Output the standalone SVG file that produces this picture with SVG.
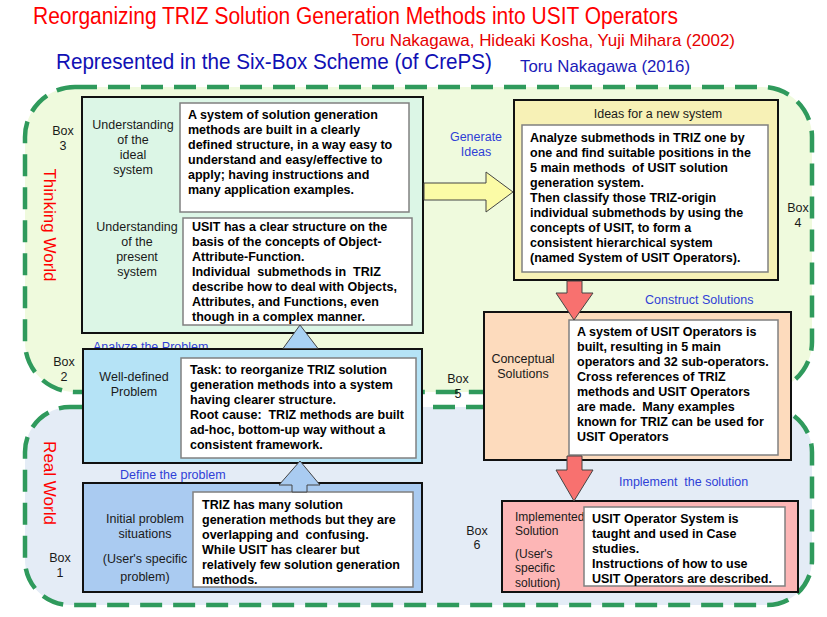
<svg xmlns="http://www.w3.org/2000/svg" width="827" height="617" viewBox="0 0 827 617">
<style>
text{font-family:"Liberation Sans",Arial,sans-serif;white-space:pre}
.hd{font-weight:normal}
.t{font-size:12.5px;font-weight:bold;fill:#000}
.lb{font-size:12.5px;fill:#1a1a1a}
.sm{font-size:12px;fill:#1a1a1a}
.fl{font-size:12.5px;fill:#2f3fd6}
.world{stroke:#2f9a5c;stroke-width:4.5;stroke-dasharray:22 11}
.outer{stroke:#111;stroke-width:2}
.inner{fill:#fff;stroke:#808080;stroke-width:1.5}
.arr{stroke:#444;stroke-width:1}
.vw{font-size:17px;fill:#f00}
</style>
<rect width="827" height="617" fill="#fff"/>
<g id="header">
<text x="33" y="24" class="hd" font-size="23" fill="#f00" textLength="645" lengthAdjust="spacingAndGlyphs">Reorganizing TRIZ Solution Generation Methods into USIT Operators</text>
<text x="352" y="46" class="hd" font-size="17" fill="#e60000" textLength="383" lengthAdjust="spacingAndGlyphs">Toru Nakagawa, Hideaki Kosha, Yuji Mihara (2002)</text>
<text x="56" y="69" class="hd" font-size="22" fill="#1010b4" textLength="436" lengthAdjust="spacingAndGlyphs">Represented in the Six-Box Scheme (of CrePS)</text>
<text x="520" y="72" class="hd" font-size="17" fill="#1a1ab8" textLength="170" lengthAdjust="spacingAndGlyphs">Toru Nakagawa (2016)</text>
</g>
<g id="worlds">
<rect id="thinking-world" class="world" x="25" y="87" width="787" height="305" rx="50" ry="50" fill="#effadd"/>
<rect id="real-world" class="world" x="25" y="407" width="787" height="198" rx="45" ry="45" fill="#e4ecf6"/>
<text class="vw" transform="translate(50,225) rotate(90)" x="0" y="6" text-anchor="middle">Thinking World</text>
<text class="vw" transform="translate(50,483) rotate(90)" x="0" y="6" text-anchor="middle">Real World</text>
</g>
<g id="flow-labels">
<text class="fl" x="476" y="141" text-anchor="middle">Generate</text>
<text class="fl" x="476" y="156" text-anchor="middle">Ideas</text>
<text class="fl" x="93" y="351">Analyze the Problem</text>
<text class="fl" x="120" y="479">Define the problem</text>
<text class="fl" x="645" y="304">Construct Solutions</text>
<text class="fl" x="619" y="486">Implement  the solution</text>
</g>
<g id="box3">
<rect class="outer" x="82" y="97" width="341" height="236" fill="#dcf6e6"/>
<text class="lb" text-anchor="middle"><tspan x="63" y="135">Box</tspan><tspan x="63" y="150">3</tspan></text>
<text class="lb" text-anchor="middle"><tspan x="133" y="129">Understanding</tspan><tspan x="133" y="144">of the</tspan><tspan x="133" y="159">ideal</tspan><tspan x="133" y="174">system</tspan></text>
<text class="lb" text-anchor="middle"><tspan x="137" y="231">Understanding</tspan><tspan x="137" y="246">of the</tspan><tspan x="137" y="261">present</tspan><tspan x="137" y="276">system</tspan></text>
<rect class="inner" x="180" y="103" width="229" height="109"/>
<text class="t"><tspan x="188" y="119">A system of solution generation</tspan><tspan x="188" y="134">methods are built in a clearly</tspan><tspan x="188" y="149">defined structure, in a way easy to</tspan><tspan x="188" y="164">understand and easy/effective to</tspan><tspan x="188" y="179">apply; having instructions and</tspan><tspan x="188" y="194">many application examples.</tspan></text>
<rect class="inner" x="183" y="218" width="229" height="107"/>
<text class="t"><tspan x="192" y="231">USIT has a clear structure on the</tspan><tspan x="192" y="246">basis of the concepts of Object-</tspan><tspan x="192" y="261">Attribute-Function.</tspan><tspan x="192" y="276">Individual  submethods in  TRIZ</tspan><tspan x="192" y="291">describe how to deal with Objects,</tspan><tspan x="192" y="306">Attributes, and Functions, even</tspan><tspan x="192" y="321">though in a complex manner.</tspan></text>
</g>
<g id="box2">
<rect class="outer" x="83" y="349" width="339" height="114" fill="#b5e3f6"/>
<text class="lb" text-anchor="middle"><tspan x="64" y="366">Box</tspan><tspan x="64" y="381">2</tspan></text>
<text class="lb" text-anchor="middle"><tspan x="134" y="381">Well-defined</tspan><tspan x="134" y="396">Problem</tspan></text>
<rect class="inner" x="181" y="358" width="235" height="100"/>
<text class="t"><tspan x="190" y="374">Task: to reorganize TRIZ solution</tspan><tspan x="190" y="389">generation methods into a system</tspan><tspan x="190" y="404">having clearer structure.</tspan><tspan x="190" y="419">Root cause:  TRIZ methods are built</tspan><tspan x="190" y="434">ad-hoc, bottom-up way without a</tspan><tspan x="190" y="449">consistent framework.</tspan></text>
</g>
<g id="box1">
<rect class="outer" x="83" y="483" width="339" height="109" fill="#aacbf1"/>
<text class="lb" text-anchor="middle"><tspan x="60" y="562">Box</tspan><tspan x="60" y="577">1</tspan></text>
<text class="lb" text-anchor="middle"><tspan x="145" y="523">Initial problem</tspan><tspan x="145" y="538">situations</tspan><tspan x="145" y="563">(User's specific</tspan><tspan x="145" y="581">problem)</tspan></text>
<rect class="inner" x="193" y="492" width="220" height="95"/>
<text class="t"><tspan x="202" y="509">TRIZ has many solution</tspan><tspan x="202" y="524">generation methods but they are</tspan><tspan x="202" y="539">overlapping and  confusing.</tspan><tspan x="202" y="554">While USIT has clearer but</tspan><tspan x="202" y="569">relatively few solution generation</tspan><tspan x="202" y="584">methods.</tspan></text>
</g>
<g id="box4">
<rect class="outer" x="514" y="100" width="264" height="180" fill="#f7f1b6"/>
<text class="lb" x="658" y="118" text-anchor="middle">Ideas for a new system</text>
<rect class="inner" x="522" y="125" width="246" height="147"/>
<text class="t"><tspan x="530" y="142">Analyze submethods in TRIZ one by</tspan><tspan x="530" y="157">one and find suitable positions in the</tspan><tspan x="530" y="172">5 main methods  of USIT solution</tspan><tspan x="530" y="187">generation system.</tspan><tspan x="530" y="202">Then classify those TRIZ-origin</tspan><tspan x="530" y="217">individual submethods by using the</tspan><tspan x="530" y="232">concepts of USIT, to form a</tspan><tspan x="530" y="247">consistent hierarchical system</tspan><tspan x="530" y="262">(named System of USIT Operators).</tspan></text>
<text class="lb" text-anchor="middle"><tspan x="798" y="212">Box</tspan><tspan x="798" y="227">4</tspan></text>
</g>
<g id="box5">
<rect class="outer" x="484" y="312" width="307" height="148" fill="#fddbbd"/>
<text class="lb" text-anchor="middle"><tspan x="523" y="363">Conceptual</tspan><tspan x="523" y="378">Solutions</tspan></text>
<rect class="inner" x="569" y="320" width="209" height="135"/>
<text class="t"><tspan x="577" y="336">A system of USIT Operators is</tspan><tspan x="577" y="351">built, resulting in 5 main</tspan><tspan x="577" y="366">operators and 32 sub-operators.</tspan><tspan x="577" y="381">Cross references of TRIZ</tspan><tspan x="577" y="396">methods and USIT Operators</tspan><tspan x="577" y="411">are made.  Many examples</tspan><tspan x="577" y="426">known for TRIZ can be used for</tspan><tspan x="577" y="441">USIT Operators</tspan></text>
<text class="lb" text-anchor="middle"><tspan x="458" y="383">Box</tspan><tspan x="458" y="398">5</tspan></text>
</g>
<g id="box6">
<rect class="outer" x="502" y="501" width="296" height="91" fill="#fdb6b6"/>
<text class="sm"><tspan x="515" y="521">Implemented</tspan><tspan x="515" y="535">Solution</tspan><tspan x="515" y="558">(User's</tspan><tspan x="515" y="572">specific</tspan><tspan x="515" y="587">solution)</tspan></text>
<rect class="inner" x="584" y="507" width="201" height="79"/>
<text class="t"><tspan x="592" y="523">USIT Operator System is</tspan><tspan x="592" y="538">taught and used in Case</tspan><tspan x="592" y="553">studies.</tspan><tspan x="592" y="568">Instructions of how to use</tspan><tspan x="592" y="583">USIT Operators are described.</tspan></text>
<text class="lb" text-anchor="middle"><tspan x="477" y="535">Box</tspan><tspan x="477" y="549">6</tspan></text>
</g>
<g id="connectors">
<polygon class="arr" fill="#fbfba6" points="424,183 486,183 486,172 513,192 486,212 486,200 424,200"/>
<polygon class="arr" fill="#f8716f" points="567,281 582,281 582,293 593,293 574,320 556,293 567,293"/>
<polygon class="arr" fill="#f8716f" points="567,456 582,456 582,470 593,470 574,501 556,470 567,470"/>
<polygon class="arr" fill="#a9d2f4" points="283,348.5 300,325 318,348.5"/>
<polygon class="arr" fill="#a9cbf1" points="292,492 292,485 279,485 300,461 320,485 307,485 307,492"/>
</g>
</svg>
